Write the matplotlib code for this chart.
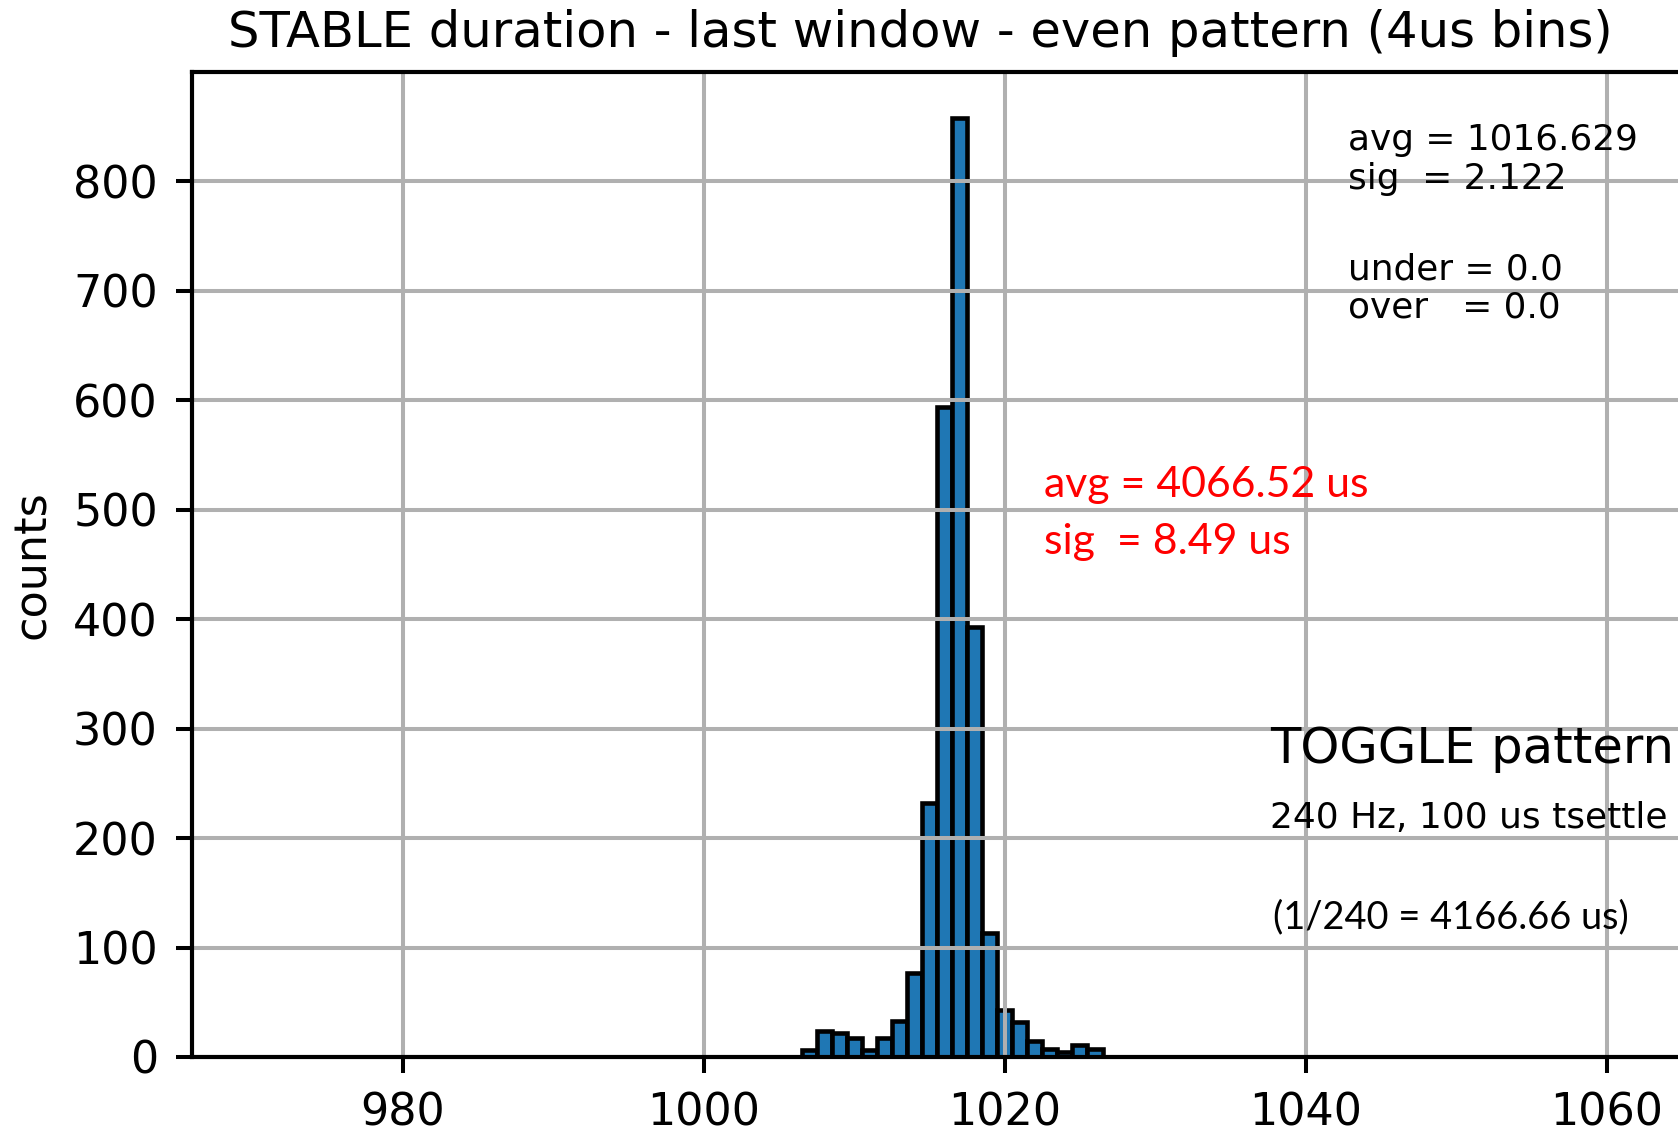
import matplotlib
matplotlib.use("Agg")
import matplotlib.pyplot as plt

# histogram counts (1-unit bins, centred on integers)
bin_centers = [1007, 1008, 1009, 1010, 1011, 1012, 1013, 1014, 1015, 1016,
               1017, 1018, 1019, 1020, 1021, 1022, 1023, 1024, 1025, 1026]
counts = [6, 24, 22, 17, 6, 17, 33, 77, 232, 594,
          858, 393, 113, 43, 32, 15, 7, 5, 11, 7]

x_ticks = [980, 1000, 1020, 1040, 1060]
y_ticks = [0, 100, 200, 300, 400, 500, 600, 700, 800]

title = "STABLE duration - last window - even pattern (4us bins)"
stats_lines = ["avg = 1016.629", "sig  = 2.122", "under = 0.0", "over   = 0.0"]
red_lines = ["avg = 4066.52 us", "sig  = 8.49 us"]
toggle_title = "TOGGLE pattern"
toggle_sub = "240 Hz, 100 us tsettle"
toggle_note = "(1/240 = 4166.66 us)"

W, H = 1678, 1131
fig = plt.figure(figsize=(W / 100, H / 100), dpi=100)


def fx(px):
    return px / W


def fy(py):
    return 1 - py / H


# axes runs past the right edge of the figure (the original is cropped)
ax_left, ax_right, ax_top, ax_bottom = 192, 192 + 114 * 15.05, 72, 1057
ax = fig.add_axes([fx(ax_left), fy(ax_bottom), (ax_right - ax_left) / W, (ax_bottom - ax_top) / H])

ax.bar(bin_centers, counts, width=1.0, color="#1f77b4", edgecolor="black", linewidth=3.3)

ax.set_xlim(966, 1080)
ax.set_ylim(0, 900)
ax.set_xticks(x_ticks)
ax.set_yticks(y_ticks)
ax.grid(True, color="#b0b0b0", linewidth=2.9)
ax.tick_params(labelsize=32, length=11.5, width=2.9, pad=13)
for sp in ax.spines.values():
    sp.set_linewidth(3.0)

fig.text(fx(920), fy(47), title, fontsize=35.7, ha="center", va="baseline")
fig.text(fx(32), fy(565), "counts", fontsize=32, rotation=90, ha="center", va="center")

for line, base in zip(stats_lines, [150, 189, 280, 318]):
    fig.text(fx(1348), fy(base), line, fontsize=25.8, ha="left", va="baseline")

for line, base in zip(red_lines, [497, 554]):
    fig.text(fx(1044), fy(base), line, fontsize=30.8, color="red", family="Lato",
             ha="left", va="baseline")

fig.text(fx(1270), fy(763), toggle_title, fontsize=35.7, ha="left", va="baseline")
fig.text(fx(1270), fy(828), toggle_sub, fontsize=25.9, ha="left", va="baseline")
fig.text(fx(1273), fy(928), toggle_note, fontsize=27.4, family="Lato", ha="left", va="baseline")

fig.savefig("out.png", dpi=100)
